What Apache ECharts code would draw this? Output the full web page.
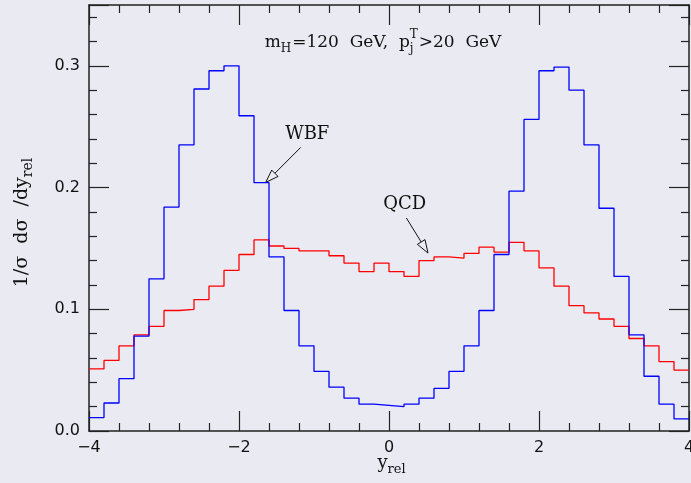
<!DOCTYPE html>
<html>
<head>
<meta charset="utf-8">
<script src="https://cdn.jsdelivr.net/npm/echarts@6/dist/echarts.min.js"></script>
<style>
  html, body { margin: 0; padding: 0; background: #eaeaf2; }
  #main { width: 691px; height: 483px; }
</style>
</head>
<body>
<div id="main"></div>
<script>
// bin edges, width 0.2 from -4 to 4
const binEdges = [-4.0, -3.8, -3.6, -3.4, -3.2, -3.0, -2.8, -2.6, -2.4, -2.2, -2.0,
  -1.8, -1.6, -1.4, -1.2, -1.0, -0.8, -0.6, -0.4, -0.2, 0.0,
  0.2, 0.4, 0.6, 0.8, 1.0, 1.2, 1.4, 1.6, 1.8, 2.0,
  2.2, 2.4, 2.6, 2.8, 3.0, 3.2, 3.4, 3.6, 3.8, 4.0];

// WBF (blue), one value per bin
const wbfValues = [0.011, 0.023, 0.043, 0.078, 0.125, 0.184, 0.235, 0.281, 0.296, 0.300,
  0.259, 0.204, 0.143, 0.099, 0.070, 0.049, 0.036, 0.027, 0.022, 0.021,
  0.020, 0.022, 0.027, 0.035, 0.049, 0.070, 0.099, 0.145, 0.197, 0.256,
  0.296, 0.299, 0.280, 0.235, 0.183, 0.127, 0.079, 0.045, 0.022, 0.010];

// QCD (red)
const qcdValues = [0.051, 0.058, 0.070, 0.079, 0.086, 0.099, 0.100, 0.108, 0.119, 0.132,
  0.145, 0.157, 0.152, 0.150, 0.148, 0.148, 0.144, 0.138, 0.131, 0.138,
  0.131, 0.127, 0.140, 0.143, 0.142, 0.146, 0.151, 0.147, 0.155, 0.148,
  0.134, 0.119, 0.103, 0.097, 0.092, 0.086, 0.076, 0.070, 0.057, 0.050];

const xTicks = [-4, -2, 0, 2, 4];
const yTicks = [0.0, 0.1, 0.2, 0.3];

const FONT_SERIF = 'DejaVu Serif';
const FONT_SANS = 'DejaVu Sans';

function stepData(values) {
  // one point per left edge, plus the closing right edge
  return binEdges.map((e, i) => [e, values[Math.min(i, values.length - 1)]]);
}

const chart = echarts.init(document.getElementById('main'), null, { renderer: 'canvas' });

const axisLineStyle = { color: '#222', width: 1.5 };
const tickStyle = { color: '#222', width: 1.2 };

function xAxisCfg(pos, labels) {
  return {
    type: 'value', position: pos, min: -4, max: 4, interval: 2,
    axisLine: { show: true, onZero: false, lineStyle: axisLineStyle },
    axisTick: { show: true, inside: true, length: 20, lineStyle: tickStyle },
    minorTick: { show: true, splitNumber: 5, length: 8, lineStyle: tickStyle },
    splitLine: { show: false },
    axisLabel: {
      show: labels, margin: 9, fontSize: 16, fontFamily: FONT_SANS, color: '#111',
      formatter: v => xTicks.includes(v) ? String(v).replace('-', '\u2212') : ''
    }
  };
}

function yAxisCfg(pos, labels) {
  return {
    type: 'value', position: pos, min: 0, max: 0.35, interval: 0.1,
    axisLine: { show: true, onZero: false, lineStyle: axisLineStyle },
    axisTick: { show: true, inside: true, length: 20, lineStyle: tickStyle },
    minorTick: { show: true, splitNumber: 5, length: 8, lineStyle: tickStyle },
    splitLine: { show: false },
    axisLabel: {
      show: labels, margin: 9, fontSize: 16, fontFamily: FONT_SANS, color: '#111',
      showMaxLabel: false,
      formatter: v => yTicks.some(t => Math.abs(t - v) < 1e-6) ? v.toFixed(1) : ''
    }
  };
}

chart.setOption({
  backgroundColor: '#eaeaf2',
  animation: false,
  grid: { left: 89, top: 5, width: 600, height: 426, show: false, outerBoundsMode: 'none', containLabel: false },
  xAxis: [xAxisCfg('bottom', true), xAxisCfg('top', false)],
  yAxis: [yAxisCfg('left', true), yAxisCfg('right', false)],
  series: [
    {
      name: 'QCD', type: 'line', step: 'end', showSymbol: false,
      xAxisIndex: 0, yAxisIndex: 0,
      lineStyle: { color: '#ff0000', width: 1.3 },
      data: stepData(qcdValues)
    },
    {
      name: 'WBF', type: 'line', step: 'end', showSymbol: false,
      xAxisIndex: 0, yAxisIndex: 0,
      lineStyle: { color: '#0000ff', width: 1.3 },
      data: stepData(wbfValues)
    }
  ]
});

// ---- text with sub/superscripts, laid out with measured widths ----
const measureCtx = document.createElement('canvas').getContext('2d');
function textWidth(s, size) {
  measureCtx.font = size + 'px "' + FONT_SERIF + '"';
  return measureCtx.measureText(s).width;
}

// parts: {s}, {sub}, {sup, sub}; returns children centred on x=0, main text middle at y=0
function mathText(parts, size) {
  const small = Math.round(size * 0.72);
  const kids = [];
  let x = 0;
  const txt = (s, px, py, sz) => ({
    type: 'text', x: px, y: py,
    style: { text: s, font: sz + 'px "' + FONT_SERIF + '"', fill: '#111', verticalAlign: 'middle', align: 'left' }
  });
  parts.forEach(p => {
    if (p.s !== undefined) {
      kids.push(txt(p.s, x, 0, size));
      x += textWidth(p.s, size);
    } else {
      let w = 0;
      if (p.sup) {
        kids.push(txt(p.sup, x, -size * 0.5, small));
        w = Math.max(w, textWidth(p.sup, small));
      }
      if (p.sub) {
        kids.push(txt(p.sub, x, size * 0.36, small));
        w = Math.max(w, textWidth(p.sub, small));
      }
      x += w + 1;
    }
  });
  kids.forEach(k => { k.x -= x / 2; });
  return kids;
}

function toPx(pt) {
  return chart.convertToPixel({ xAxisIndex: 0, yAxisIndex: 0 }, pt);
}

// arrow with an open triangular head, ends given in data units
function arrow(from, to) {
  const a = toPx(from), b = toPx(to);
  const dx = b[0] - a[0], dy = b[1] - a[1];
  const len = Math.sqrt(dx * dx + dy * dy);
  const ux = dx / len, uy = dy / len;
  const hl = 13, hw = 4.5;
  const bx = b[0] - ux * hl, by = b[1] - uy * hl;
  return [
    { type: 'line', shape: { x1: a[0], y1: a[1], x2: bx, y2: by }, style: { stroke: '#111', lineWidth: 1 } },
    {
      type: 'polygon',
      shape: { points: [[b[0], b[1]], [bx - uy * hw, by + ux * hw], [bx + uy * hw, by - ux * hw]] },
      style: { fill: 'none', stroke: '#111', lineWidth: 1 }
    }
  ];
}

const wbfLabel = toPx([-1.09, 0.244]);
const qcdLabel = toPx([0.21, 0.186]);

chart.setOption({
  graphic: [
    { type: 'group', x: 383, y: 43, children: mathText([{ s: 'm' }, { sub: 'H' }, { s: '=120  GeV,  p' }, { sup: 'T', sub: 'j' }, { s: '>20  GeV' }], 17) },
    { type: 'group', x: 392, y: 463, children: mathText([{ s: 'y' }, { sub: 'rel' }], 18) },
    { type: 'group', x: 22, y: 222, rotation: Math.PI / 2, children: mathText([{ s: '1/\u03c3  d\u03c3  /dy' }, { sub: 'rel' }], 19) },
    { type: 'text', x: wbfLabel[0], y: wbfLabel[1], style: { text: 'WBF', font: '18px "' + FONT_SERIF + '"', fill: '#111', align: 'center', verticalAlign: 'middle' } },
    { type: 'text', x: qcdLabel[0], y: qcdLabel[1], style: { text: 'QCD', font: '18px "' + FONT_SERIF + '"', fill: '#111', align: 'center', verticalAlign: 'middle' } },
    ...arrow([-1.177, 0.233], [-1.644, 0.2042]),
    ...arrow([0.232, 0.175], [0.52, 0.1462])
  ]
});
</script>
</body>
</html>
